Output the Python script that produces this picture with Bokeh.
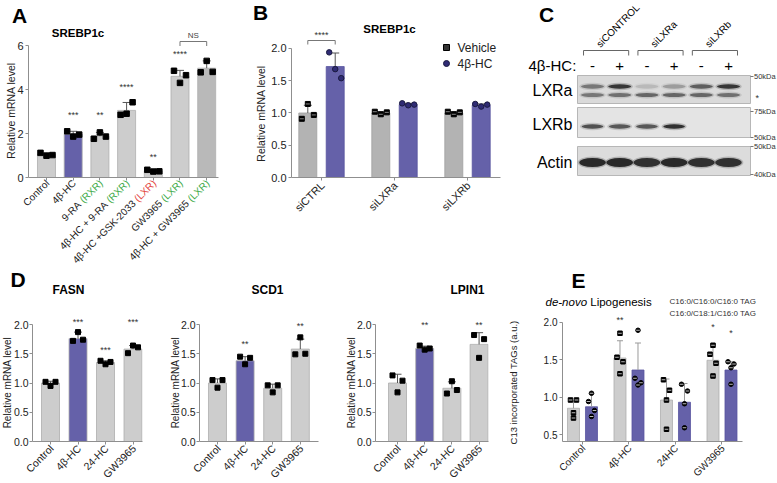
import math
from bokeh.plotting import figure
from bokeh.models import Range1d, FixedTicker, NumeralTickFormatter, CustomJSTickFormatter
from bokeh.layouts import row, column
from bokeh.embed import file_html
from bokeh.resources import INLINE
from bokeh.core.properties import value

FONT = "Liberation Sans"
GRAY = "#cdcdcd"
DGRAY = "#b9b9b9"
BGRAY = "#b3b3b3"
PURPLE = "#6561a9"
AXC = "#8f8f8f"
TXT = "#222222"
GREEN = "#3daa48"
RED = "#e3453d"

# ---------------- data ----------------
# Panel A: SREBP1c
a_labels = ["Control", "4β-HC", "9-RA", "4β-HC + 9-RA", "4β-HC +GSK-2033", "GW3965", "4β-HC + GW3965"]
a_tags = ["", "", "(RXR)", "(RXR)", "(LXR)", "(LXR)", "(LXR)"]
a_mean = [1.05, 1.97, 1.88, 3.05, 0.30, 4.60, 4.97]
a_sd = [0.07, 0.13, 0.17, 0.36, 0.06, 0.27, 0.33]
a_pts = [[1.12, 0.99, 1.02], [2.10, 1.86, 1.95], [1.76, 2.05, 1.86], [2.85, 2.90, 3.42],
         [0.35, 0.27, 0.28], [4.85, 4.30, 4.65], [4.78, 5.30, 4.80]]
a_stars = ["", "***", "**", "****", "**", "****", ""]
a_star_y = [0, 2.85, 2.85, 4.10, 0.95, 5.60, 0]
a_ticks = [0, 2, 4, 6]

# Panel B: SREBP1c with siRNA
b_groups = ["siCTRL", "siLXRa", "siLXRb"]
b_series = ["Vehicle", "4β-HC"]
b_vehicle = [1.00, 1.00, 1.00]
b_vehicle_sd = [0.12, 0.02, 0.02]
b_hc = [1.72, 1.13, 1.12]
b_hc_sd = [0.21, 0.02, 0.02]
b_vehicle_pts = [[0.91, 1.14, 0.97], [1.02, 0.98, 1.01], [1.02, 0.98, 1.01]]
b_hc_pts = [[1.94, 1.68, 1.54], [1.15, 1.12, 1.13], [1.14, 1.10, 1.13]]
b_ticks = [0.0, 0.5, 1.0, 1.5, 2.0]

# Panel C: western blot
c_groups = ["siCONTROL", "siLXRa", "siLXRb"]
c_lanes = ["-", "+", "-", "+", "-", "+"]
c_rows = ["LXRa", "LXRb", "Actin"]
lxra_upper = [0.50, 0.90, 0.15, 0.30, 0.65, 0.90]
lxra_lower = [0.50, 0.55, 0.60, 0.60, 0.60, 0.55]
lxrb_band = [0.75, 0.70, 0.70, 0.95, 0.0, 0.0]
actin_band = [1.0, 1.0, 0.95, 1.0, 0.95, 0.95]
c_markers = ["50kDa", "*", "75kDa", "50kDa", "50kDa", "40kDa"]

# Panel D
d_labels = ["Control", "4β-HC", "24-HC", "GW3965"]
fasn_mean = [1.00, 1.76, 1.35, 1.58]
fasn_sd = [0.03, 0.11, 0.03, 0.06]
fasn_pts = [[1.02, 0.95, 1.02], [1.72, 1.87, 1.74], [1.38, 1.32, 1.36], [1.51, 1.64, 1.61]]
fasn_stars = ["", "***", "***", "***"]
fasn_star_y = [0, 2.04, 1.57, 2.04]
scd1_mean = [1.00, 1.38, 0.91, 1.58]
scd1_sd = [0.07, 0.07, 0.07, 0.17]
scd1_pts = [[1.05, 0.92, 1.05], [1.45, 1.32, 1.43], [0.96, 0.84, 0.96], [1.49, 1.78, 1.50]]
scd1_stars = ["", "**", "", "**"]
scd1_star_y = [0, 1.66, 0, 1.97]
lpin1_mean = [1.00, 1.59, 0.91, 1.66]
lpin1_sd = [0.15, 0.04, 0.11, 0.20]
lpin1_pts = [[1.13, 0.84, 1.04], [1.64, 1.57, 1.59], [0.82, 1.03, 0.88], [1.82, 1.43, 1.75]]
lpin1_stars = ["", "**", "", "**"]
lpin1_star_y = [0, 2.0, 0, 2.0]
d_ticks = [0.0, 0.5, 1.0, 1.5, 2.0]

# Panel E: de-novo lipogenesis
e_labels = ["Control", "4β-HC", "24HC", "GW3965"]
e_series = ["C16:0/C16:0/C16:0 TAG", "C16:0/C18:1/C16:0 TAG"]
e_tag1 = [0.85, 1.52, 0.96, 1.49]
e_tag1_sd = [0.10, 0.23, 0.28, 0.21]
e_tag2 = [0.87, 1.36, 0.93, 1.36]
e_tag2_sd = [0.18, 0.36, 0.25, 0.11]
e_tag1_pts = [[0.96, 0.96, 0.79, 0.72], [1.53, 1.47, 1.85, 1.31], [1.23, 1.09, 0.96, 0.57], [1.57, 1.45, 1.69, 1.28]]
e_tag2_pts = [[0.94, 0.82, 1.05, 0.74], [1.25, 1.19, 1.89, 1.16], [1.17, 1.08, 0.91, 0.59], [1.47, 1.44, 1.39, 1.17]]
e_stars1 = ["", "**", "", "*"]
e_stars1_y = [0, 2.03, 0, 1.94]
e_stars2 = ["", "", "", "*"]
e_stars2_y = [0, 0, 0, 1.86]
e_ticks = [0.5, 1.0, 1.5, 2.0]

HELV = {' ': 0.278, '(': 0.333, ')': 0.333, '+': 0.584, '-': 0.333, '.': 0.278, '/': 0.278,
        ':': 0.278, 'A': 0.667, 'C': 0.722, 'G': 0.778, 'H': 0.722, 'K': 0.667, 'L': 0.556,
        'R': 0.722, 'S': 0.667, 'W': 0.944, 'X': 0.667, 'T': 0.611, 'i': 0.222, 'l': 0.222,
        's': 0.5, 'v': 0.5, 'c': 0.5, 'r': 0.333, 't': 0.278}


def text_w(s, size):
    return sum(HELV.get(ch, 0.556) for ch in s) * size


class Panel:
    def __init__(self, box, frame, xr, yr, axes=True):
        self.box, self.frame, self.xr, self.yr = box, frame, xr, yr
        bx0, by0, bx1, by1 = box
        fx0, fy0, fx1, fy1 = frame
        extra = {} if axes else dict(x_axis_type=None, y_axis_type=None)
        p = figure(width=bx1 - bx0, height=by1 - by0,
                   x_range=Range1d(xr[0], xr[1]), y_range=Range1d(yr[0], yr[1]),
                   output_backend="svg", toolbar_location=None, tools="",
                   min_border_left=fx0 - bx0, min_border_right=bx1 - fx1,
                   min_border_top=fy0 - by0, min_border_bottom=by1 - fy1, **extra)
        p.outline_line_color = None
        p.xgrid.visible = False
        p.ygrid.visible = False
        p.background_fill_color = "white"
        p.border_fill_color = "white"
        self.p = p

    def X(self, ix):
        fx0, _, fx1, _ = self.frame
        return self.xr[0] + (ix - fx0) * (self.xr[1] - self.xr[0]) / (fx1 - fx0)

    def Y(self, iy):
        _, fy0, _, fy1 = self.frame
        return self.yr[0] + (fy1 - iy) * (self.yr[1] - self.yr[0]) / (fy1 - fy0)

    def px(self, x):
        fx0, _, fx1, _ = self.frame
        return fx0 + (x - self.xr[0]) * (fx1 - fx0) / (self.xr[1] - self.xr[0])

    def dx(self, d):
        fx0, _, fx1, _ = self.frame
        return d * (self.xr[1] - self.xr[0]) / (fx1 - fx0)

    def text(self, x, y, s, size=11, color=TXT, align="center", baseline="middle",
             angle=0.0, style="normal"):
        self.p.text(x=[x], y=[y], text=[s], angle=angle, text_align=align,
                    text_baseline=baseline, text_font=value(FONT),
                    text_font_size=value(f"{size}px"), text_color=color,
                    text_font_style=style, level="overlay")

    def ptext(self, ix, iy, s, **kw):
        self.text(self.X(ix), self.Y(iy), s, **kw)

    def axes(self, yticks, ybounds, xticks, fmt, ysize=11, standoff=2):
        p = self.p
        ya, xa = p.yaxis[0], p.xaxis[0]
        ya.ticker = FixedTicker(ticks=yticks)
        ya.bounds = ybounds
        ya.formatter = NumeralTickFormatter(format=fmt)
        xa.ticker = FixedTicker(ticks=xticks)
        xa.formatter = CustomJSTickFormatter(code="return ''")
        for a in (xa, ya):
            a.axis_line_color = AXC
            a.axis_line_width = 1
            a.major_tick_line_color = AXC
            a.major_tick_out = 3
            a.major_tick_in = 0
            a.minor_tick_line_color = None
            a.major_label_text_font = FONT
            a.major_label_text_font_size = f"{ysize}px"
            a.major_label_text_color = TXT
            a.major_label_standoff = standoff

    def bars(self, xs, means, sds, fills, wpx, pts, offs, marker="square", msize=5,
             mfill="black", mline="black", ecolor="#555555", capw=4, lcolor="#adadad",
             dash=None):
        p = self.p
        p.vbar(x=xs, top=means, bottom=self.yr[0], width=self.dx(wpx),
               fill_color=fills, line_color=lcolor, line_width=0.8)
        tops = [m + s for m, s in zip(means, sds)]
        p.segment(x0=xs, y0=means, x1=xs, y1=tops, line_color=ecolor, line_width=1)
        cw = self.dx(capw)
        p.segment(x0=[x - cw for x in xs], y0=tops, x1=[x + cw for x in xs], y1=tops,
                  line_color=ecolor, line_width=1)
        qx, qy = [], []
        for x, vals in zip(xs, pts):
            for j, v in enumerate(vals):
                qx.append(x + self.dx(offs[j]))
                qy.append(v)
        p.scatter(x=qx, y=qy, marker=marker, size=msize, fill_color=mfill, line_color=mline)
        if dash:
            p.scatter(x=qx, y=qy, marker="dash", size=msize * 0.8, line_color=dash, line_width=1)

    def stars(self, xs, stars, ys, size=9):
        for x, s, y in zip(xs, stars, ys):
            if s:
                self.text(x, y, s, size=size, color="#333333")

    def xlabels(self, xs, labels, axis_iy, size, tags=None, tag_colors=None, gap=5, shift=1):
        c = math.cos(math.pi / 4)
        for i, x in enumerate(xs):
            ax_, ay_ = self.px(x) + shift, axis_iy + gap
            if tags and tags[i]:
                self.ptext(ax_, ay_, tags[i], size=size, color=tag_colors[i], align="right",
                           angle=math.pi / 4)
                w = text_w(" " + tags[i], size)
                self.ptext(ax_ - w * c, ay_ + w * c, labels[i], size=size, align="right",
                           angle=math.pi / 4)
            else:
                self.ptext(ax_, ay_, labels[i], size=size, align="right", angle=math.pi / 4)


ROW1 = (0, 265)
ROW2 = (265, 482)
F1 = (30, 177)     # frame top/bottom, row 1
F2 = (318, 441)    # frame top/bottom, row 2

# ---------------- Panel A ----------------
A = Panel((0, ROW1[0], 250, ROW1[1]), (28, F1[0], 218, F1[1]), (-0.674, 6.442), (0.0, 6.682))
xa_pos = list(range(len(a_labels)))
A.axes(a_ticks, (0, 6), xa_pos, "0", 11)
a_fill = [GRAY, PURPLE, GRAY, GRAY, GRAY, GRAY, DGRAY]
A.bars(xa_pos, a_mean, a_sd, a_fill, 18, a_pts, [-6, 0, 6], msize=5.5)
A.stars(xa_pos, a_stars, a_star_y, size=9)
ny0, ny1 = A.Y(41), A.Y(45.5)
A.p.multi_line(xs=[[xa_pos[5], xa_pos[5], xa_pos[6], xa_pos[6]]], ys=[[ny1, ny0, ny0, ny1]],
               line_color="#777777", line_width=1)
A.text((xa_pos[5] + xa_pos[6]) / 2, A.Y(35), "NS", size=8, color="#444444")
tag_cols = ["", "", GREEN, GREEN, RED, GREEN, GREEN]
A.xlabels(xa_pos, a_labels, F1[1], 10, a_tags, tag_cols, gap=4)
A.ptext(19, 15, "A", size=21, style="bold", color="black")
A.ptext(77.5, 32, "SREBP1c", size=11.5, style="bold", color="black")
A.ptext(10, 110, "Relative mRNA level", size=10.5, angle=math.pi / 2)

# ---------------- Panel B ----------------
B = Panel((250, ROW1[0], 520, ROW1[1]), (291, F1[0], 500, F1[1]), (-0.411, 2.452), (0.0, 2.279))
xb = list(range(len(b_groups)))
B.axes(b_ticks, (0, 2), xb, "0.0", 11)
off = B.dx(13.7)
B.bars([x - off for x in xb], b_vehicle, b_vehicle_sd, [BGRAY] * 3, 18, b_vehicle_pts,
       [-6, 0, 6], msize=5, dash="#888888", lcolor="#a0a0a0")
B.bars([x + off for x in xb], b_hc, b_hc_sd, [PURPLE] * 3, 18, b_hc_pts, [-6, 0, 6],
       marker="circle", msize=5.5, mfill="#2f2b74", mline="#1a1a40", lcolor="#5854a0")
by0, by1 = B.Y(40), B.Y(44)
B.p.multi_line(xs=[[xb[0] - off, xb[0] - off, xb[0] + off, xb[0] + off]], ys=[[by1, by0, by0, by1]],
               line_color="#777777", line_width=1)
B.text(xb[0], B.Y(34), "****", size=9, color="#333333")
B.p.scatter(x=[B.X(446)], y=[B.Y(47)], marker="square", size=6, fill_color="#333333",
            line_color="black")
B.p.scatter(x=[B.X(446)], y=[B.Y(63)], marker="circle", size=6, fill_color="#2f2b74",
            line_color="#1a1a40")
B.ptext(457, 47, b_series[0], size=12, align="left")
B.ptext(457, 63, b_series[1], size=12, align="left")
B.xlabels(xb, b_groups, F1[1], 11, gap=6)
B.ptext(260, 12, "B", size=21, style="bold", color="black")
B.ptext(389, 28, "SREBP1c", size=11.5, style="bold", color="black")
B.ptext(260, 113, "Relative mRNA level", size=10.5, angle=math.pi / 2)

# ---------------- Panel C (blot) ----------------
C = Panel((520, ROW1[0], 777, ROW1[1]), (520, F1[0], 777, F1[1]), (-2.647, 6.801),
          (F1[1], F1[0]), axes=False)
lanes = list(range(len(c_lanes)))
cp = C.p
for (top, bot, fill) in [(75, 103, "#dadada"), (107, 137, "#e4e4e4"), (146, 175, "#dcdcdc")]:
    cp.quad(left=[C.X(577)], right=[C.X(750)], top=[top], bottom=[bot], fill_color=fill,
            line_color="#a8a8a8", line_width=0.8)


def band(ys, ints, w, h):
    cp.ellipse(x=lanes, y=[ys] * 6, width=w + 0.12, height=h + 3, fill_color="#333333",
               fill_alpha=[0.25 * v for v in ints], line_color=None)
    cp.ellipse(x=lanes, y=[ys] * 6, width=w, height=h, fill_color="#1a1a1a",
               fill_alpha=[0.9 * v for v in ints], line_color=None)


band(86, lxra_upper, 0.85, 4.5)
band(94.5, lxra_lower, 0.85, 4)
band(126, lxrb_band, 0.8, 4.5)
band(162, actin_band, 0.97, 9)
for i, s in enumerate(c_lanes):
    C.text(lanes[i], 65, s, size=15, color="black")
C.ptext(528, 65, "4β-HC:", size=15, align="left", color="black")
for g in range(3):
    l, r = 2 * g - 0.33, 2 * g + 1.33
    cp.multi_line(xs=[[l, l, r, r]], ys=[[55, 50, 50, 55]], line_color="#666666", line_width=1)
    C.text(2 * g + 0.5 - 0.3, 45, c_groups[g], size=10, align="left", angle=math.pi / 4,
           color="black")
C.ptext(572, 90, c_rows[0], size=16, align="right", color="black")
C.ptext(572, 124, c_rows[1], size=16, align="right", color="black")
C.ptext(572, 162, c_rows[2], size=16, align="right", color="black")
for s, iy in zip(c_markers, [76, 95, 111, 137, 146, 174]):
    if s != "*":
        cp.segment(x0=[C.X(750)], y0=[iy], x1=[C.X(753)], y1=[iy], line_color="#555555",
                   line_width=0.8, level="overlay")
        C.ptext(753.5, iy, s, size=7.5, align="left", color="#333333")
    else:
        C.ptext(755, iy + 2, s, size=9, align="left", color="#333333")
C.ptext(546, 14, "C", size=21, style="bold", color="black")

# ---------------- Panel D ----------------
D_YR = (0.0, (F2[1] - F2[0]) / 58.5)


def d_panel(box, frame, xr, mean, sd, pts, stars, star_y, title, title_x, ylab_x, letter=None):
    P = Panel(box, frame, xr, D_YR)
    xs = list(range(len(d_labels)))
    P.axes(d_ticks, (0, 2), xs, "0.0", 10.5, standoff=1)
    P.bars(xs, mean, sd, [GRAY, PURPLE, GRAY, GRAY], 18, pts, [-5, 0, 5], msize=5)
    P.stars(xs, stars, star_y, size=9)
    P.xlabels(xs, d_labels, F2[1], 10.5, gap=5)
    P.ptext(title_x, 289, title, size=12, style="bold", color="black")
    P.ptext(ylab_x, 382, "Relative mRNA level", size=10, angle=math.pi / 2)
    if letter:
        P.ptext(17.5, 279, letter, size=21, style="bold", color="black")
    return P


D1 = d_panel((0, ROW2[0], 170, ROW2[1]), (32, F2[0], 142, F2[1]), (-0.655, 3.345), fasn_mean,
             fasn_sd, fasn_pts, fasn_stars, fasn_star_y, "FASN", 68, 6.5, letter="D")
D2 = d_panel((170, ROW2[0], 345, ROW2[1]), (199, F2[0], 318, F2[1]), (-0.652, 3.659), scd1_mean,
             scd1_sd, scd1_pts, scd1_stars, scd1_star_y, "SCD1", 267, 175)
D3 = d_panel((345, ROW2[0], 500, ROW2[1]), (375, F2[0], 488, F2[1]), (-0.809, 3.346), lpin1_mean,
             lpin1_sd, lpin1_pts, lpin1_stars, lpin1_star_y, "LPIN1", 467, 351)

# ---------------- Panel E ----------------
E = Panel((500, ROW2[0], 777, ROW2[1]), (562, F2[0], 742, F2[1]), (-0.430, 3.441),
          (0.4067, 0.4067 + (F2[1] - F2[0]) / 75.0))
xe = list(range(len(e_labels)))
E.axes(e_ticks, (0.4067, 2.0), xe, "0.0", 10)
eo = E.dx(9)
E.bars([x - eo for x in xe], e_tag1, e_tag1_sd, [GRAY] * 4, 12, e_tag1_pts, [-3, 3, 0, 0],
       msize=4.5, ecolor="#9a9a9a", capw=3, dash="#bbbbbb")
E.bars([x + eo for x in xe], e_tag2, e_tag2_sd, [PURPLE] * 4, 12, e_tag2_pts, [-3, 3, 0, 0],
       marker="circle", msize=4.5, ecolor="#9a9a9a", capw=3, lcolor="#5854a0", dash="#bbbbbb")
E.stars([x - eo for x in xe], e_stars1, e_stars1_y, size=9)
E.stars([x + eo for x in xe], e_stars2, e_stars2_y, size=9)
E.xlabels(xe, e_labels, F2[1], 10, gap=5)
E.ptext(578, 280, "E", size=21, style="bold", color="black")
E.ptext(545, 301, "de-novo", size=11.5, align="left", style="italic", color="black")
E.ptext(545 + text_w("de-novo ", 11.5), 301, "Lipogenesis", size=11.5, align="left",
        color="black")
E.p.scatter(x=[E.X(663)], y=[E.Y(301)], marker="square", size=4.5, color="black", level="overlay")
E.p.scatter(x=[E.X(663)], y=[E.Y(313)], marker="circle", size=4.5, color="black", level="overlay")
E.ptext(669, 301, e_series[0], size=8, align="left", color="#333333")
E.ptext(669, 313, e_series[1], size=8, align="left", color="#333333")
E.ptext(513, 382, "C13 incorporated TAGs (a.u.)", size=9.5, angle=math.pi / 2)

layout = column(row(A.p, B.p, C.p, spacing=0), row(D1.p, D2.p, D3.p, E.p, spacing=0), spacing=0)
with open("out.html", "w", encoding="utf-8") as f:
    f.write(file_html(layout, INLINE))
